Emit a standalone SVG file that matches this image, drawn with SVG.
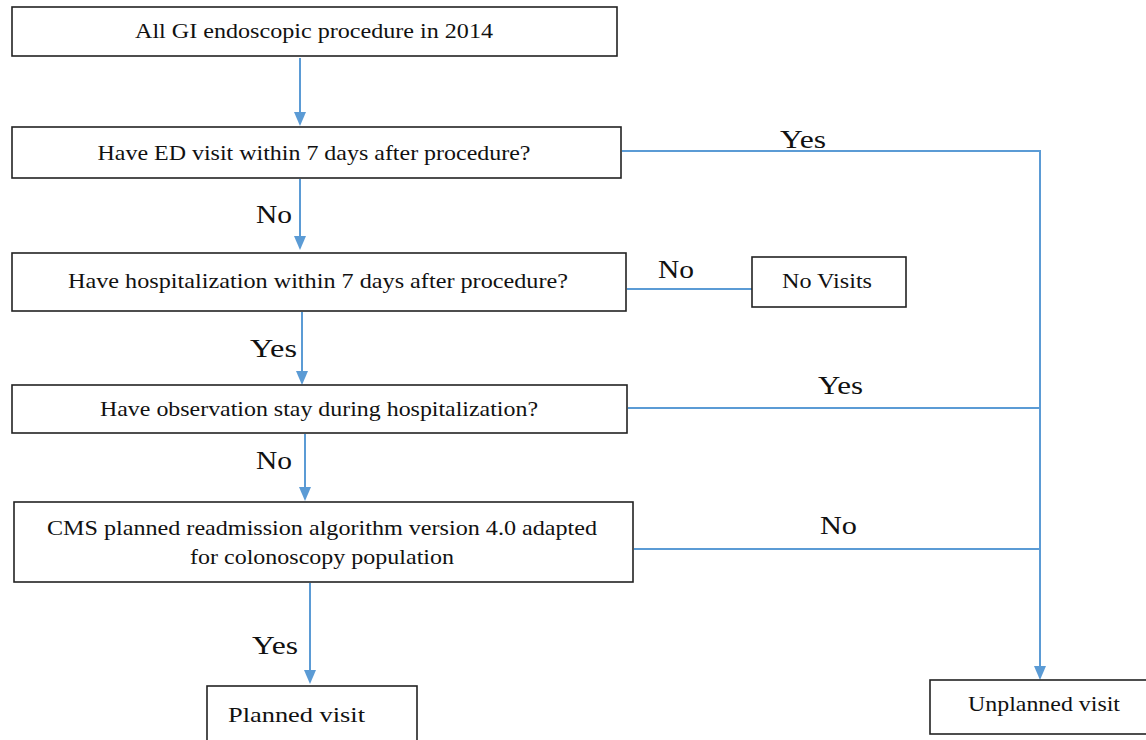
<svg xmlns="http://www.w3.org/2000/svg" width="1146" height="740" viewBox="0 0 1146 740">
<style>
.box{fill:#fff;stroke:#222;stroke-width:1.6}
.t{font-family:"Liberation Serif","Times New Roman",serif;font-size:22px;fill:#111;text-anchor:middle}
.l{font-family:"Liberation Serif","Times New Roman",serif;font-size:25px;fill:#111}
.c{fill:none;stroke:#5B9BD5;stroke-width:2}
.ah{fill:#5B9BD5}
</style>
<rect width="1146" height="740" fill="#fff"/>
<g id="connectors">
<path class="c" d="M300,58 V112"/>
<path class="c" d="M300,179 V237"/>
<path class="c" d="M302,312 V372"/>
<path class="c" d="M305,434 V488"/>
<path class="c" d="M310,583 V671"/>
<path class="c" d="M622,151 H1040 V667"/>
<path class="c" d="M627,289 H752"/>
<path class="c" d="M628,408 H1040"/>
<path class="c" d="M634,549 H1040"/>
<path class="ah" d="M294,112 H306 L300,126 z"/>
<path class="ah" d="M294,236 H306 L300,250 z"/>
<path class="ah" d="M296,371 H308 L302,385 z"/>
<path class="ah" d="M299,487 H311 L305,501 z"/>
<path class="ah" d="M304,670 H316 L310,684 z"/>
<path class="ah" d="M1034,666 H1046 L1040,680 z"/>
<text class="l" x="780" y="148" textLength="46" lengthAdjust="spacingAndGlyphs">Yes</text>
<text class="l" x="256" y="223" textLength="36" lengthAdjust="spacingAndGlyphs">No</text>
<text class="l" x="658" y="278" textLength="36" lengthAdjust="spacingAndGlyphs">No</text>
<text class="l" x="250" y="357" textLength="47" lengthAdjust="spacingAndGlyphs">Yes</text>
<text class="l" x="818" y="394" textLength="45" lengthAdjust="spacingAndGlyphs">Yes</text>
<text class="l" x="256" y="469" textLength="36" lengthAdjust="spacingAndGlyphs">No</text>
<text class="l" x="820" y="534" textLength="37" lengthAdjust="spacingAndGlyphs">No</text>
<text class="l" x="252" y="654" textLength="46" lengthAdjust="spacingAndGlyphs">Yes</text>
</g>
<g id="n1"><rect class="box" x="12" y="7" width="605" height="49"/><text class="t" x="314" y="38" textLength="358" lengthAdjust="spacingAndGlyphs">All GI endoscopic procedure in 2014</text></g>
<g id="n2"><rect class="box" x="12" y="127" width="609" height="51"/><text class="t" x="314" y="160" textLength="433" lengthAdjust="spacingAndGlyphs">Have ED visit within 7 days after procedure?</text></g>
<g id="n3"><rect class="box" x="12" y="253" width="614" height="58"/><text class="t" x="318" y="288" textLength="500" lengthAdjust="spacingAndGlyphs">Have hospitalization  within 7 days after procedure?</text></g>
<g id="n4"><rect class="box" x="752" y="257" width="154" height="50"/><text class="t" x="827" y="288" textLength="90" lengthAdjust="spacingAndGlyphs">No Visits</text></g>
<g id="n5"><rect class="box" x="12" y="385" width="615" height="48"/><text class="t" x="319" y="416" textLength="438" lengthAdjust="spacingAndGlyphs">Have observation stay during hospitalization?</text></g>
<g id="n6"><rect class="box" x="14" y="502" width="619" height="80"/><text class="t" x="322" y="535" textLength="550" lengthAdjust="spacingAndGlyphs">CMS planned readmission algorithm version 4.0 adapted</text><text class="t" x="322" y="564" textLength="264" lengthAdjust="spacingAndGlyphs">for colonoscopy  population</text></g>
<g id="n7"><rect class="box" x="207" y="686" width="210" height="60"/><text class="t" x="228" y="722" style="text-anchor:start" textLength="137" lengthAdjust="spacingAndGlyphs">Planned visit</text></g>
<g id="n8"><rect class="box" x="930" y="680" width="220" height="54"/><text class="t" x="1044" y="711" textLength="152" lengthAdjust="spacingAndGlyphs">Unplanned visit</text></g>
</svg>
